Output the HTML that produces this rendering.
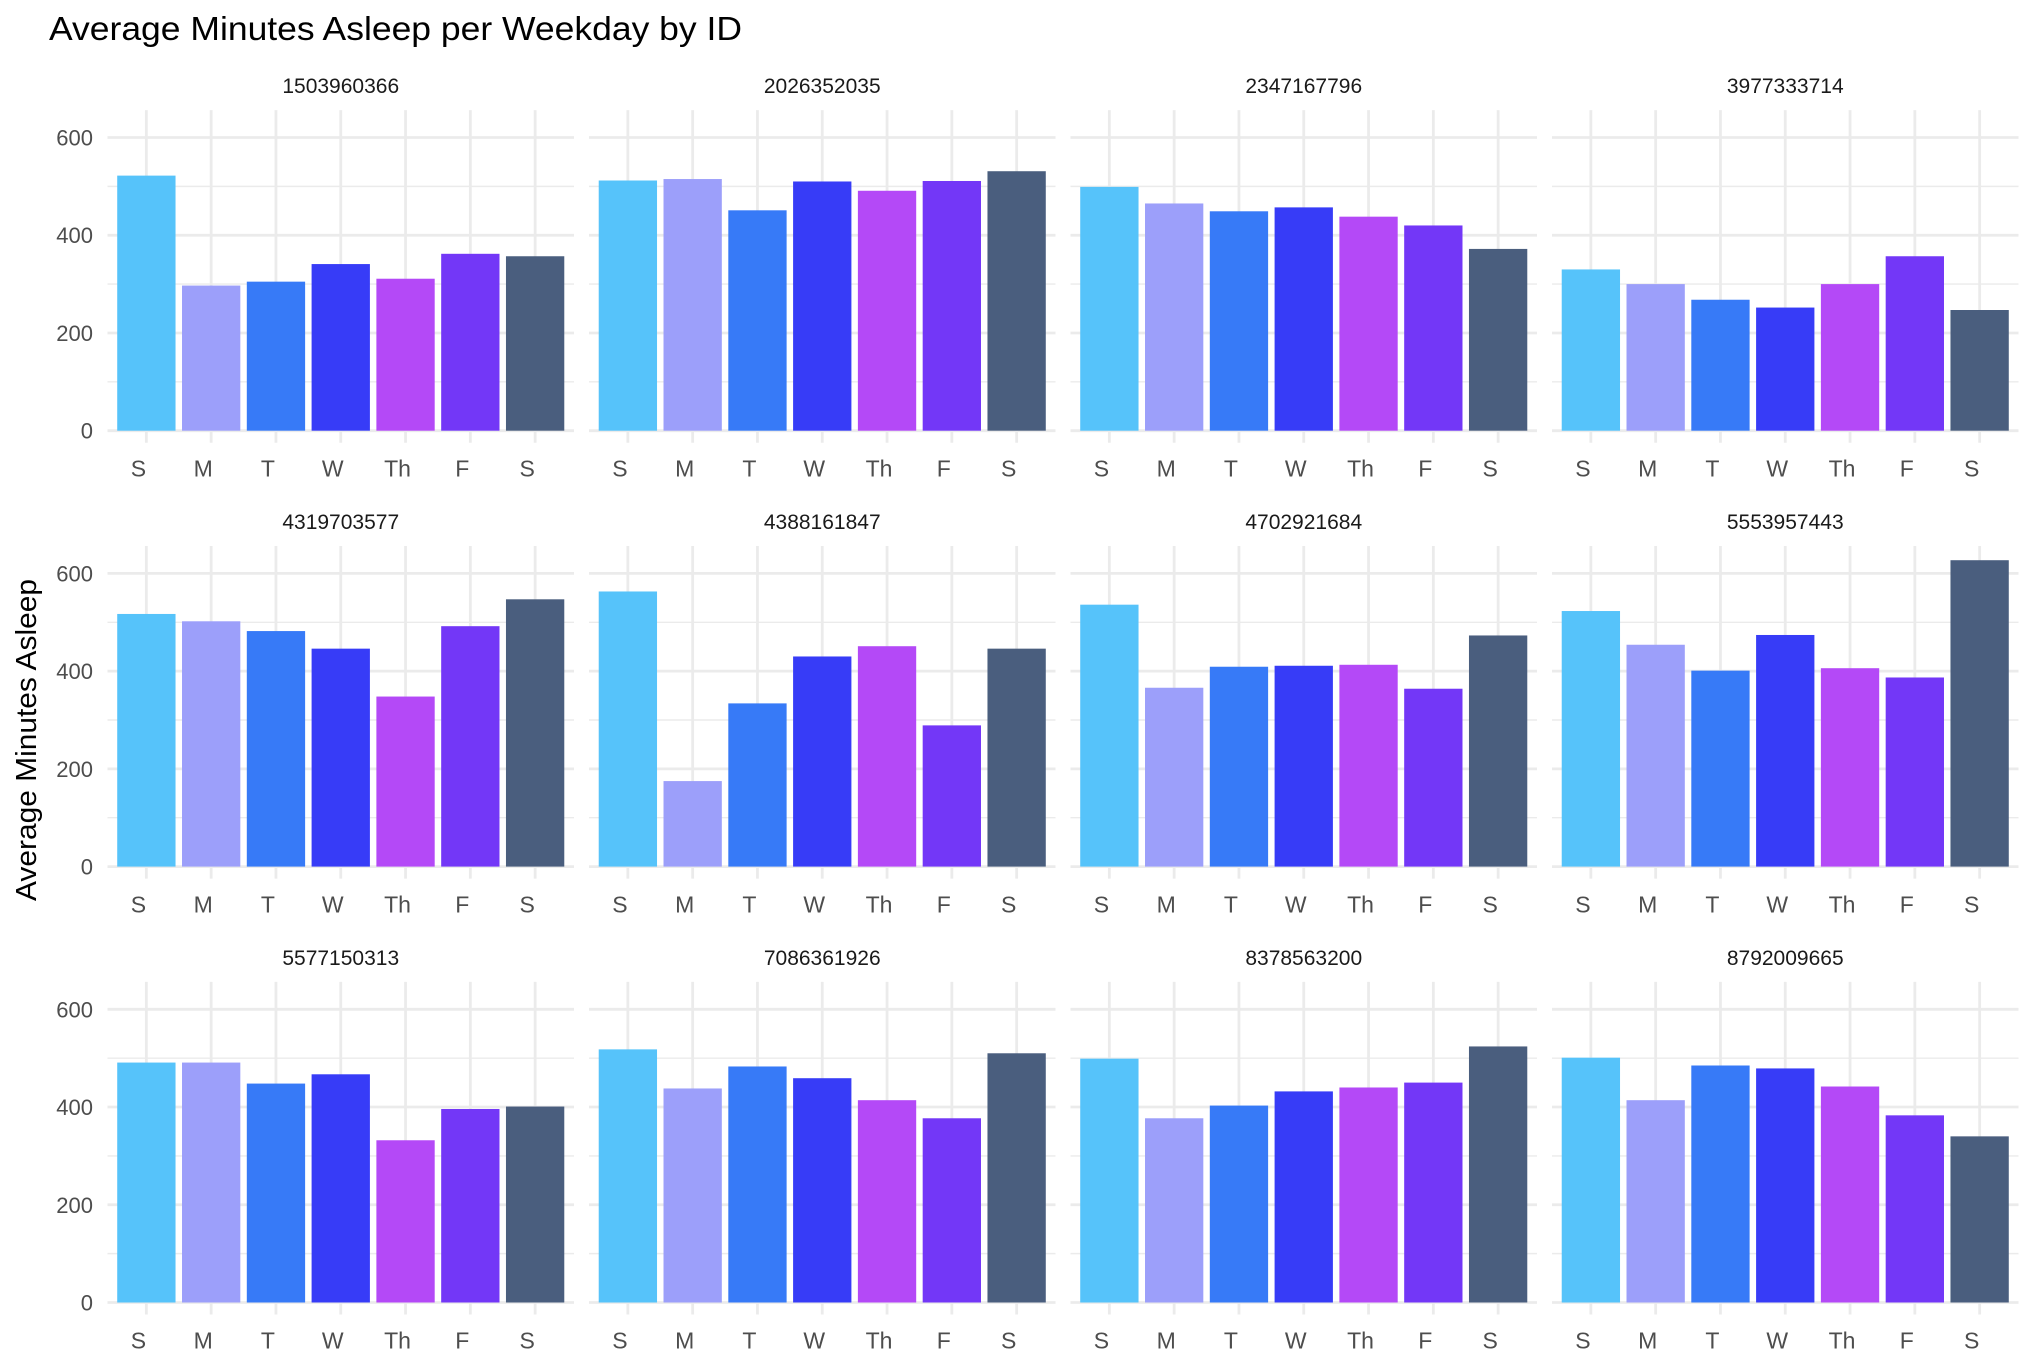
<!DOCTYPE html>
<html><head><meta charset="utf-8"><style>
html,body{margin:0;padding:0;background:#fff;}
svg{display:block;font-family:"Liberation Sans",Arial,sans-serif;}
</style></head><body>
<svg id="chart" width="2034" height="1370" viewBox="0 0 2034 1370" xmlns="http://www.w3.org/2000/svg">
<text x="49" y="40" font-size="33" fill="#000" textLength="693" lengthAdjust="spacingAndGlyphs">Average Minutes Asleep per Weekday by ID</text>
<text transform="translate(36,740) rotate(-90)" text-anchor="middle" font-size="29" fill="#000" textLength="322" lengthAdjust="spacingAndGlyphs">Average Minutes Asleep</text>
<g id="panels"></g>
</svg>
<script>
const ids = ["1503960366","2026352035","2347167796","3977333714","4319703577","4388161847","4702921684","5553957443","5577150313","7086361926","8378563200","8792009665"];
const days = ["S","M","T","W","Th","F","S"];
const yTicks = [0,200,400,600];
const yMinor = [100,300,500];
const colors = ["#56c3fa","#9c9ffa","#377af7","#373cf7","#b449f7","#7337f7","#4a5e7e"];
const v1503960366 = [522,297,305,341,311,362,357];
const v2026352035 = [512,515,451,510,491,511,531];
const v2347167796 = [499,465,449,457,438,420,372];
const v3977333714 = [330,300,268,252,300,357,247];
const v4319703577 = [517,502,482,446,348,492,547];
const v4388161847 = [563,175,334,430,451,289,446];
const v4702921684 = [536,366,409,411,413,364,473];
const v5553957443 = [523,454,401,474,406,387,627];
const v5577150313 = [491,491,448,467,332,396,401];
const v7086361926 = [518,438,483,459,414,377,510];
const v8378563200 = [499,377,403,432,440,450,524];
const v8792009665 = [501,414,485,479,442,383,340];
const series = [v1503960366,v2026352035,v2347167796,v3977333714,v4319703577,v4388161847,v4702921684,v5553957443,v5577150313,v7086361926,v8378563200,v8792009665];

const NS="http://www.w3.org/2000/svg";
const g=document.getElementById('panels');
const panelW=466.5, gapX=15, left0=107.5;
const zero0=866.6-435.9, rowH=435.9, pxPerUnit=293.2/600, topUnits=656;
function mk(tag,attrs,parent){const e=document.createElementNS(NS,tag);for(const k in attrs)e.setAttribute(k,attrs[k]);parent.appendChild(e);return e;}
series.forEach((vals,i)=>{
  const col=i%4,row=Math.floor(i/4);
  const x0=left0+col*(panelW+gapX), zero=zero0+row*rowH;
  const sp=panelW/7.2;
  const xs=k=>x0+(0.6+k)*sp;
  const ys=v=>zero-v*pxPerUnit;
  const pg=mk('g',{},g);
  
  
  const top=ys(topUnits);
  yMinor.forEach(t=>{const l=mk('line',{x1:x0,x2:x0+panelW,y1:ys(t),y2:ys(t),stroke:'#ebebeb','stroke-width':1.4},pg);
    
    });
  yTicks.forEach(t=>{const l=mk('line',{x1:x0,x2:x0+panelW,y1:ys(t),y2:ys(t),stroke:'#ebebeb','stroke-width':2.8},pg);
    
    });
  days.forEach((d,k)=>{const l=mk('line',{x1:xs(k),x2:xs(k),y1:top,y2:zero+12,stroke:'#ebebeb','stroke-width':2.8},pg);
    
    });
  vals.forEach((v,k)=>{const bw=sp*0.9;
    const r=mk('rect',{x:xs(k)-bw/2,y:ys(v),width:bw,height:v*pxPerUnit,fill:colors[k]},pg);
    
    
    const t=mk('text',{x:xs(k)-8,y:zero+46,'text-anchor':'middle','font-size':23,fill:'#4d4d4d'},pg);t.textContent=days[k];
    
    });
  if(col===0){yTicks.forEach(tv=>{const t=mk('text',{x:93,y:ys(tv)+8,'text-anchor':'end','font-size':22,fill:'#4d4d4d'},pg);t.textContent=tv;
    
    });}
  const s=mk('text',{x:x0+panelW/2,y:top-17,'text-anchor':'middle','font-size':21,fill:'#1a1a1a'},pg);
  s.textContent=ids[i];
  
  
});
</script>
</body></html>
